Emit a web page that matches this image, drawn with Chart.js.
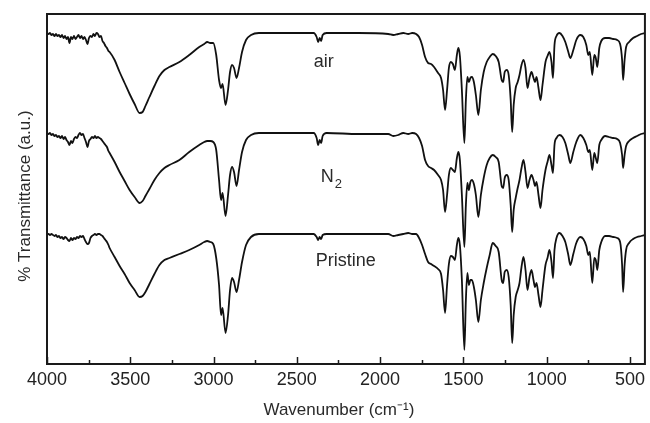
<!DOCTYPE html>
<html><head><meta charset="utf-8">
<script src="https://cdn.jsdelivr.net/npm/chart.js@4"></script>
<style>html,body{margin:0;padding:0;background:#fff;}canvas{display:block;}</style>
</head><body>
<canvas id="c" width="650" height="423"></canvas>
<script>
// Wavenumbers (cm-1), shared by all three spectra
const wavenumbers = [4000,3991,3982,3973,3964,3955,3946,3937,3928,3919,3910,3901,3892,3883,3874,3865,3856,3847,3838,3829,3820,3811,3802,3793,3784,3775,3766,3757,3748,3739,3730,3721,3712,3703,3694,3685,3676,3667,3658,3649,3640,3631,3624,3594,3564,3534,3504,3474,3444,3426,3409,3385,3355,3325,3295,3265,3205,3146,3086,3056,3038,3020,3002,2984,2967,2955,2946,2928,2913,2901,2889,2877,2862,2847,2829,2805,2775,2728,2489,2399,2381,2372,2363,2354,2345,2321,2130,1951,1921,1891,1861,1831,1807,1784,1766,1748,1730,1712,1694,1676,1652,1634,1622,1610,1598,1587,1575,1563,1551,1539,1530,1521,1509,1494,1485,1476,1467,1458,1449,1437,1425,1410,1395,1378,1360,1342,1324,1306,1288,1270,1261,1252,1240,1228,1216,1207,1198,1186,1174,1163,1151,1139,1127,1115,1103,1091,1079,1070,1061,1049,1037,1025,1007,995,983,971,962,953,941,923,905,888,870,858,840,822,798,780,762,750,741,726,714,705,696,684,672,649,625,601,577,559,547,541,532,523,505,481,457,433,410];
// % Transmittance (a.u., offset curves)
const airT = [331,330,331,329,330,328,330,328,329,327,329,326,328,325,327,321,327,325,328,325,327,329,326,328,325,327,324,320,326,328,327,330,328,331,330,327,328,323,321,318,316,313,312,304,292,281,270,260,251,252,258,267,278,288,294,297,302,309,317,320,322,321,321,309,284,276,280,259,274,292,299,296,286,296,312,324,329,331,331,331,327,322,326,323,329,331,331,330,329,330,331,330,331,330,327,319,307,301,300,297,291,286,274,254,274,296,302,300,294,309,316,308,274,221,264,287,282,286,287,282,269,249,274,292,302,307,310,308,302,284,282,292,294,289,264,232,259,276,282,289,299,304,296,276,286,292,286,282,287,276,264,279,302,308,312,302,286,319,328,331,328,322,312,306,314,324,329,327,319,309,312,289,309,306,297,316,323,326,326,325,324,320,304,284,304,317,322,326,328,330,331];
const n2T = [231,230,231,229,230,228,229,227,228,226,228,225,227,224,222,219,223,221,225,227,226,229,231,229,230,226,222,217,223,225,227,226,228,226,227,226,225,223,221,219,217,213,211,202,192,183,174,167,161,163,168,175,184,191,196,199,204,212,219,222,223,223,222,214,184,164,171,148,169,189,197,192,178,194,212,224,229,231,231,231,226,219,224,221,228,231,230,230,228,229,231,230,231,230,226,218,204,198,196,194,189,184,174,152,169,189,196,194,192,206,212,204,169,117,159,181,174,182,184,180,169,147,169,186,199,206,209,207,202,178,176,186,189,184,159,132,154,166,176,184,196,204,192,176,184,189,184,178,182,169,156,174,194,202,209,199,191,219,226,229,227,221,209,201,212,222,229,226,219,212,214,194,211,206,201,219,224,228,227,226,225,221,209,196,209,218,223,226,228,230,231];
const pristineT = [130,130,129,130,129,128,129,127,128,126,127,125,127,126,124,123,126,124,126,125,127,126,128,127,128,125,122,120,121,126,128,129,130,129,130,130,129,128,126,124,122,119,116,107,98,90,81,74,67,68,72,80,90,99,104,106,110,114,119,122,123,122,120,106,79,49,56,31,49,74,86,82,72,84,102,119,127,130,130,130,127,124,127,125,129,130,130,130,128,129,130,131,130,130,126,119,110,102,100,98,95,90,74,51,79,100,108,107,104,119,126,119,84,14,64,91,79,84,84,77,64,42,64,81,96,109,121,118,112,84,81,92,94,87,59,21,49,67,74,81,97,107,94,74,87,94,84,77,81,69,57,74,99,106,114,102,86,114,126,131,128,122,109,99,110,121,127,125,118,109,112,81,106,104,94,114,122,128,128,127,126,122,99,72,99,114,121,125,127,128,129];
const xTickLabels = [4000,3500,3000,2500,2000,1500,1000,500];
const seriesNames = ['air','N2','Pristine'];

const FONT = '"Liberation Sans", Arial, sans-serif';

const curveLabels = [
  {text:'air', sub:'', wn:2399, t:297},
  {text:'N', sub:'2', wn:2357, t:182},
  {text:'Pristine', sub:'', wn:2387, t:98}
];

function pts(vals){ return wavenumbers.map((w,i)=>({x:w, y:vals[i]})); }

const framePlugin = {
  id:'frameTicks',
  afterDraw(chart){
    const {ctx, chartArea:{left,right,top,bottom}, scales:{x}} = chart;
    ctx.save();
    ctx.strokeStyle = '#1a1a1a';
    ctx.lineWidth = 2;
    ctx.strokeRect(left, top, right-left, bottom-top);
    ctx.lineWidth = 1.5;
    for (let v = 4000; v >= 500; v -= 250) {
      const px = Math.round(x.getPixelForValue(v)) + 0.5;
      const len = (v % 500 === 0) ? 7 : 4;
      ctx.beginPath();
      ctx.moveTo(px, bottom);
      ctx.lineTo(px, bottom - len);
      ctx.stroke();
    }
    ctx.restore();
  }
};

const labelPlugin = {
  id:'curveLabels',
  afterDatasetsDraw(chart){
    const {ctx, scales:{x,y}} = chart;
    ctx.save();
    ctx.fillStyle = '#2a2a2a';
    ctx.textAlign = 'left';
    ctx.textBaseline = 'alphabetic';
    curveLabels.forEach(l => {
      const px = x.getPixelForValue(l.wn), py = y.getPixelForValue(l.t);
      ctx.font = '18px ' + FONT;
      ctx.fillText(l.text, px, py);
      if (l.sub) {
        const w = ctx.measureText(l.text).width;
        ctx.font = '13px ' + FONT;
        ctx.fillText(l.sub, px + w + 1, py + 6);
      }
    });
    ctx.restore();
  }
};

const lineStyle = {borderColor:'#111', borderWidth:1.8, pointRadius:0, fill:false, cubicInterpolationMode:'monotone'};

new Chart(document.getElementById('c'), {
  type:'line',
  data:{
    datasets:[
      Object.assign({label:seriesNames[0], data:pts(airT)}, lineStyle),
      Object.assign({label:seriesNames[1], data:pts(n2T)}, lineStyle),
      Object.assign({label:seriesNames[2], data:pts(pristineT)}, lineStyle)
    ]
  },
  options:{
    responsive:false,
    animation:false,
    events:[],
    layout:{padding:{top:14, right:2, left:0, bottom:0}},
    plugins:{legend:{display:false}, tooltip:{enabled:false}},
    scales:{
      x:{
        type:'linear', reverse:true, min:410, max:4000,
        afterBuildTicks:(s)=>{ s.ticks = xTickLabels.map(v=>({value:v})); },
        afterFit:(s)=>{ s.height = 59; },
        grid:{display:false, drawTicks:false},
        border:{display:false},
        ticks:{color:'#222', font:{size:18, family:FONT}, padding:5, maxRotation:0, autoSkip:false, callback:(v)=>String(v)},
        title:{display:true, text:'Wavenumber (cm\u207B\u00B9)   ', color:'#2a2a2a', font:{size:17, family:FONT}, padding:{top:0, bottom:2}}
      },
      y:{
        min:0, max:350,
        afterFit:(s)=>{ s.width = 47; },
        grid:{display:false, drawTicks:false},
        border:{display:false},
        ticks:{display:false},
        title:{display:true, text:'% Transmittance (a.u.)   ', color:'#2a2a2a', font:{size:17, family:FONT}, padding:{top:15, bottom:0}}
      }
    }
  },
  plugins:[framePlugin, labelPlugin]
});
</script>
</body></html>
